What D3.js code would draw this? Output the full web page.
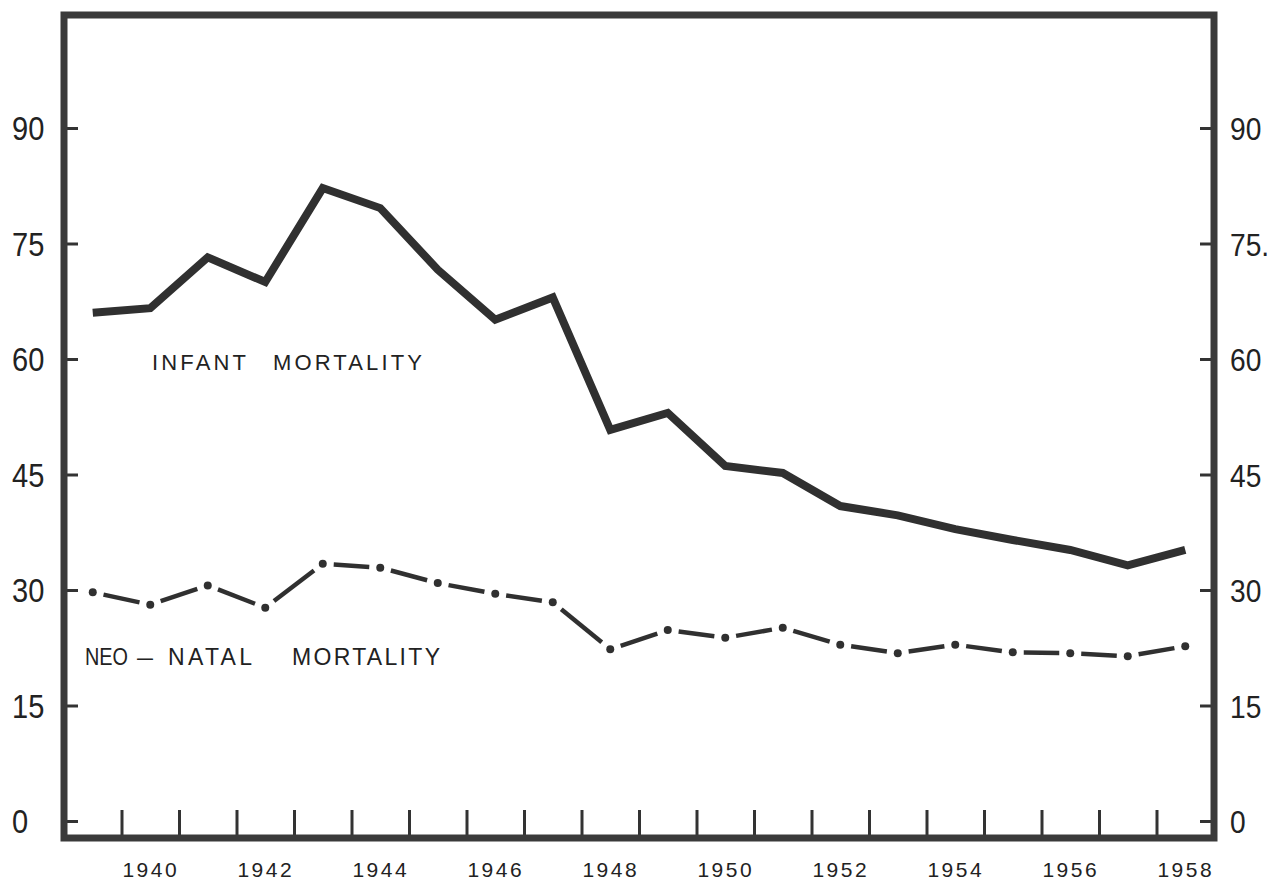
<!DOCTYPE html>
<html lang="en">

<head>
  <meta charset="UTF-8">
  <title>Infant and Neo-natal Mortality</title>
  <script src="https://d3js.org/d3.v7.min.js"></script>
  <style>
    body {
      margin: 0;
      background: #fff;
    }

    text {
      font-family: "Liberation Sans", Arial, sans-serif;
      fill: #222;
    }
  </style>
</head>

<body>
  <div id="chart"></div>
  <script>
    // values (rates per 1000)
    const years = [1939, 1940, 1941, 1942, 1943, 1944, 1945, 1946, 1947, 1948,
      1949, 1950, 1951, 1952, 1953, 1954, 1955, 1956, 1957, 1958];
    const infant = [66.0, 66.6, 73.2, 70.0, 82.2, 79.6, 71.6, 65.1, 68.0, 50.8,
      53.0, 46.1, 45.2, 40.9, 39.7, 37.9, 36.5, 35.2, 33.2, 35.2];
    const neonatal = [29.7, 28.1, 30.6, 27.7, 33.4, 32.9, 30.9, 29.5, 28.4, 22.3,
      24.8, 23.8, 25.1, 22.9, 21.8, 22.9, 21.9, 21.8, 21.4, 22.7];
    const yTicks = [0, 15, 30, 45, 60, 75, 90];
    const yearLabels = [1940, 1942, 1944, 1946, 1948, 1950, 1952, 1954, 1956, 1958];

    const width = 1275;
    const height = 880;
    const frameLeft = 64, frameRight = 1214, frameTop = 15, frameBottom = 838;
    const ink = "#333";

    const x = d3.scaleLinear().domain([1938.5, 1958.5]).range([frameLeft, frameRight]);
    const y = d3.scaleLinear().domain([0, 90]).range([821, 128]);

    const svg = d3.select("#chart")
      .append("svg")
      .attr("width", width)
      .attr("height", height)
      .style("display", "block");

    // squeeze a text horizontally, the scan uses a narrow face
    function condense(sel, k) {
      sel.each(function () {
        const w = this.getComputedTextLength();
        d3.select(this)
          .attr("textLength", w * k)
          .attr("lengthAdjust", "spacingAndGlyphs");
      });
    }

    // ticks on the left, inward
    const leftAxis = svg.append("g")
      .attr("transform", `translate(${frameLeft},0)`)
      .call(d3.axisLeft(y).tickValues(yTicks).tickSize(-14).tickPadding(0));
    leftAxis.select(".domain").remove();
    leftAxis.selectAll(".tick line").attr("stroke", ink).attr("stroke-width", 3);
    leftAxis.selectAll(".tick text")
      .attr("x", -52)
      .attr("dy", "0.36em")
      .attr("text-anchor", "start")
      .style("font-size", "33px")
      .call(condense, 0.88);

    // ticks on the right, inward
    const rightAxis = svg.append("g")
      .attr("transform", `translate(${frameRight},0)`)
      .call(d3.axisRight(y).tickValues(yTicks).tickSize(-14).tickPadding(0)
        .tickFormat(d => d === 75 ? "75." : d));
    rightAxis.select(".domain").remove();
    rightAxis.selectAll(".tick line").attr("stroke", ink).attr("stroke-width", 3);
    rightAxis.selectAll(".tick text")
      .attr("x", 16)
      .attr("dy", "0.36em")
      .attr("text-anchor", "start")
      .style("font-size", "32px")
      .call(condense, 0.88);

    // year boundary ticks along the bottom
    const yearBounds = years.slice(1).map(d => d - 0.5);
    const bottomTicks = svg.append("g")
      .attr("transform", `translate(0,${frameBottom})`)
      .call(d3.axisBottom(x).tickValues(yearBounds).tickSize(-28).tickFormat(""));
    bottomTicks.select(".domain").remove();
    bottomTicks.selectAll(".tick line").attr("stroke", ink).attr("stroke-width", 3);

    const bottomLabels = svg.append("g")
      .attr("transform", `translate(0,${frameBottom})`)
      .call(d3.axisBottom(x).tickValues(yearLabels).tickSize(0).tickFormat(d3.format("d")));
    bottomLabels.select(".domain").remove();
    bottomLabels.selectAll(".tick text")
      .attr("y", 39)
      .attr("dy", 0)
      .style("font-size", "21px")
      .style("letter-spacing", "2.5px");

    // frame
    svg.append("rect")
      .attr("x", frameLeft)
      .attr("y", frameTop)
      .attr("width", frameRight - frameLeft)
      .attr("height", frameBottom - frameTop)
      .attr("fill", "none")
      .attr("stroke", "#3a3a3a")
      .attr("stroke-width", 7);

    // infant mortality: heavy solid line
    const line = d3.line()
      .x((d, i) => x(years[i]))
      .y(d => y(d));

    svg.append("path")
      .datum(infant)
      .attr("d", line)
      .attr("fill", "none")
      .attr("stroke", "#303030")
      .attr("stroke-width", 8)
      .attr("stroke-linejoin", "miter");

    // neo-natal mortality: dot at each year, dash between
    const pts = neonatal.map((d, i) => [x(years[i]), y(d)]);
    const gap = 11;
    const segs = d3.pairs(pts).map(([a, b]) => {
      const dx = b[0] - a[0], dy = b[1] - a[1];
      const len = Math.hypot(dx, dy);
      const ux = dx / len, uy = dy / len;
      return [a[0] + ux * gap, a[1] + uy * gap, b[0] - ux * gap, b[1] - uy * gap];
    });

    svg.append("g")
      .selectAll("line")
      .data(segs)
      .join("line")
      .attr("x1", d => d[0])
      .attr("y1", d => d[1])
      .attr("x2", d => d[2])
      .attr("y2", d => d[3])
      .attr("stroke", "#303030")
      .attr("stroke-width", 4.5);

    svg.append("g")
      .selectAll("circle")
      .data(pts)
      .join("circle")
      .attr("cx", d => d[0])
      .attr("cy", d => d[1])
      .attr("r", 4)
      .attr("fill", "#303030");

    // in-chart labels, one text per word to keep the wide spacing
    function label(words, baseline, size) {
      svg.append("g")
        .selectAll("text")
        .data(words)
        .join("text")
        .attr("x", d => d.x)
        .attr("y", baseline)
        .attr("textLength", d => d.w)
        .attr("lengthAdjust", d => d.fit ? "spacingAndGlyphs" : "spacing")
        .style("font-size", size + "px")
        .text(d => d.t);
    }

    label([{ t: "INFANT", x: 152, w: 94 }, { t: "MORTALITY", x: 273, w: 149 }], 370, 22);
    label([{ t: "NEO", x: 85, w: 43, fit: true }, { t: "–", x: 137, w: 16, fit: true },
      { t: "NATAL", x: 168, w: 84 }, { t: "MORTALITY", x: 292, w: 148 }], 665, 23);
  </script>
</body>

</html>
